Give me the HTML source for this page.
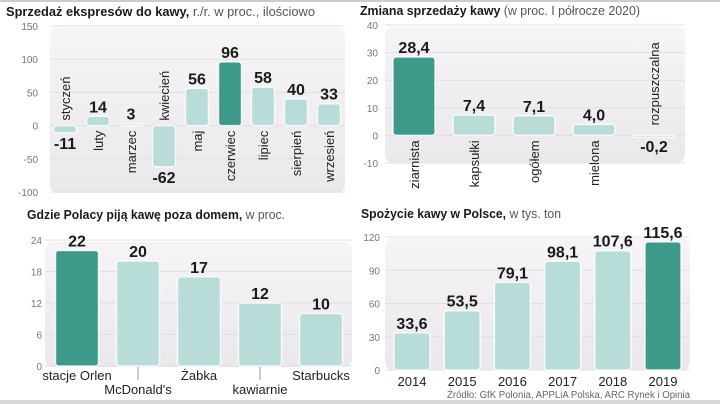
<!DOCTYPE html>
<html><head><meta charset="utf-8">
<style>
html,body{margin:0;padding:0;background:#fff;}
body{width:720px;height:404px;overflow:hidden;position:relative;font-family:"Liberation Sans",sans-serif;}
svg{position:absolute;left:0;top:0;}
.t{font-weight:bold;font-size:13px;fill:#1a1a1a;}
.ts{font-weight:normal;fill:#555;}
.tick{font-size:10px;fill:#777;}
.val{font-weight:bold;font-size:16px;fill:#1a1a1a;}
.cat{font-size:13px;fill:#222;}
</style></head>
<body>
<svg id="s" width="720" height="404" viewBox="0 0 720 404">
<defs>
<linearGradient id="pg" x1="0" y1="0" x2="0" y2="1"><stop offset="0" stop-color="#f6f4f6"/><stop offset="1" stop-color="#ebe8eb"/></linearGradient>
</defs>
<rect x="0" y="0" width="720" height="2" fill="#c9ccd6"/>
<rect x="0" y="400" width="720" height="4" fill="#d8d8d8"/>
<text x="6" y="16" class="t" textLength="309" lengthAdjust="spacingAndGlyphs">Sprzedaż ekspresów do kawy, <tspan class="ts">r./r. w proc., ilościowo</tspan></text>
<text x="360" y="15" class="t" textLength="280" lengthAdjust="spacingAndGlyphs">Zmiana sprzedaży kawy <tspan class="ts">(w proc. I półrocze 2020)</tspan></text>
<text x="27" y="219" class="t" textLength="258" lengthAdjust="spacingAndGlyphs">Gdzie Polacy piją kawę poza domem, <tspan class="ts">w proc.</tspan></text>
<text x="361" y="218" class="t" textLength="200" lengthAdjust="spacingAndGlyphs">Spożycie kawy w Polsce, <tspan class="ts">w tys. ton</tspan></text>
<text x="447" y="398" font-size="10" fill="#666" textLength="243" lengthAdjust="spacingAndGlyphs">Źródło: GfK Polonia, APPLiA Polska, ARC Rynek i Opinia</text>
</svg>
<script>
// Chart 1
const c1Cats=["styczeń","luty","marzec","kwiecień","maj","czerwiec","lipiec","sierpień","wrzesień"];
const c1Vals=[-11,14,3,-62,56,96,58,40,33];
const c1Labels=["-11","14","3","-62","56","96","58","40","33"];
const c1Ticks=[150,100,50,0,-50,-100];
const c1Hi=5;
// Chart 2
const c2Cats=["ziarnista","kapsułki","ogółem","mielona","rozpuszczalna"];
const c2Vals=[28.4,7.4,7.1,4.0,-0.2];
const c2Labels=["28,4","7,4","7,1","4,0","-0,2"];
const c2Ticks=[40,30,20,10,0,-10];
const c2Hi=0;
// Chart 3
const c3Cats=["stacje Orlen","McDonald's","Żabka","kawiarnie","Starbucks"];
const c3Vals=[22,20,17,12,10];
const c3Labels=["22","20","17","12","10"];
const c3Ticks=[24,18,12,6,0];
const c3Hi=0;
// Chart 4
const c4Cats=["2014","2015","2016","2017","2018","2019"];
const c4Vals=[33.6,53.5,79.1,98.1,107.6,115.6];
const c4Labels=["33,6","53,5","79,1","98,1","107,6","115,6"];
const c4Ticks=[120,90,60,30,0];
const c4Hi=5;

const S=document.getElementById('s');
const NS='http://www.w3.org/2000/svg';
function mk(tag,attrs,parent){const e=document.createElementNS(NS,tag);for(const k in attrs)e.setAttribute(k,attrs[k]);(parent||S).appendChild(e);return e;}
const DARK='#3d9a8b',LIGHT='#b8dcd7';

function drawChart(o){
  const g=mk('g',{});
  
  
  const y=v=>o.y0-(v-o.vmin)*(o.y0-o.y1)/(o.vmax-o.vmin);
  const x=i=>o.x0+o.step*i;
  const p=mk('rect',{x:o.px0,y:o.py0,width:o.px1-o.px0,height:o.py1-o.py0,rx:8,fill:'url(#pg)'},g);
  
  
  o.ticks.forEach(t=>{
    const ln=mk('line',{x1:o.px0,x2:o.px1,y1:y(t),y2:y(t),stroke:'#e2dfe3','stroke-width':1},g);
    
    
    const tx=mk('text',{x:o.tickX,y:y(t)+4,'text-anchor':'end',class:'tick'},g);
    tx.textContent=t;
    
    
  });
  o.vals.forEach((v,i)=>{
    const cx=x(i),top=Math.min(y(v),y(0)),h=Math.max(Math.abs(y(v)-y(0)),2);
    const b=mk('rect',{x:cx-o.bw/2,y:top,width:o.bw,height:h,rx:3,fill:i===o.hi?DARK:LIGHT,stroke:'#fff','stroke-width':1.5,'stroke-opacity':0.8},g);
    
    
    const lab=mk('text',{x:cx,y:v>=0?y(v)-4:y(v)+16,'text-anchor':'middle',class:'val'},g);
    lab.textContent=o.labels[i];
    
    
    o.catFn(g,o.cats[i],cx,v,y,i);
  });
}
function rotCat(g,c,cx,v,y){
  let t;
  if(v>=0){t=mk('text',{x:0,y:0,'text-anchor':'end',class:'cat',transform:`translate(${cx+5},${y(0)+5}) rotate(-90)`},g);}
  else{t=mk('text',{x:0,y:0,'text-anchor':'start',class:'cat',transform:`translate(${cx+5},${y(0)-5}) rotate(-90)`},g);}
  t.textContent=c;
  
  
}
drawChart({name:'chart-espresso-sales',cats:c1Cats,vals:c1Vals,labels:c1Labels,ticks:c1Ticks,hi:c1Hi,vmin:-100,vmax:150,y0:192,y1:26,x0:65,step:33,bw:23,px0:50,px1:345,py0:28,py1:193,tickX:38,catFn:rotCat});
drawChart({name:'chart-coffee-sales-change',cats:c2Cats,vals:c2Vals,labels:c2Labels,ticks:c2Ticks,hi:c2Hi,vmin:-10,vmax:40,y0:163,y1:25,x0:414,step:60,bw:42,px0:385,px1:685,py0:27,py1:163,tickX:378,catFn:function(g,c,cx,v,y){
  let t;
  if(v>=0.5){t=mk('text',{x:0,y:0,'text-anchor':'end',class:'cat',transform:`translate(${cx+5},${y(0)+5}) rotate(-90)`},g);}
  else{t=mk('text',{x:0,y:0,'text-anchor':'start',class:'cat',transform:`translate(${cx+5},${y(0)-10}) rotate(-90)`},g);}
  t.textContent=c;
  
  
}});
drawChart({name:'chart-coffee-out-of-home',cats:c3Cats,vals:c3Vals,labels:c3Labels,ticks:c3Ticks,hi:c3Hi,vmin:0,vmax:24,y0:366,y1:240,x0:77,step:61,bw:43,px0:45,px1:352,py0:242,py1:367,tickX:42,catFn:function(g,c,cx,v,y,i){
  const row=i%2===1;
  if(row){const l=mk('line',{x1:cx,x2:cx,y1:367,y2:380,stroke:'#999','stroke-width':1},g);
    
    }
  const t=mk('text',{x:cx,y:row?394:380,'text-anchor':'middle',class:'cat'},g);
  t.textContent=c;
  
  
}});
drawChart({name:'chart-coffee-consumption',cats:c4Cats,vals:c4Vals,labels:c4Labels,ticks:c4Ticks,hi:c4Hi,vmin:0,vmax:120,y0:370,y1:237,x0:412,step:50.2,bw:36,px0:385,px1:690,py0:238,py1:370,tickX:380,catFn:function(g,c,cx){
  const t=mk('text',{x:cx,y:386,'text-anchor':'middle',class:'cat','font-size':'14'},g);
  t.textContent=c;
  
  
}});
</script>
</body></html>
